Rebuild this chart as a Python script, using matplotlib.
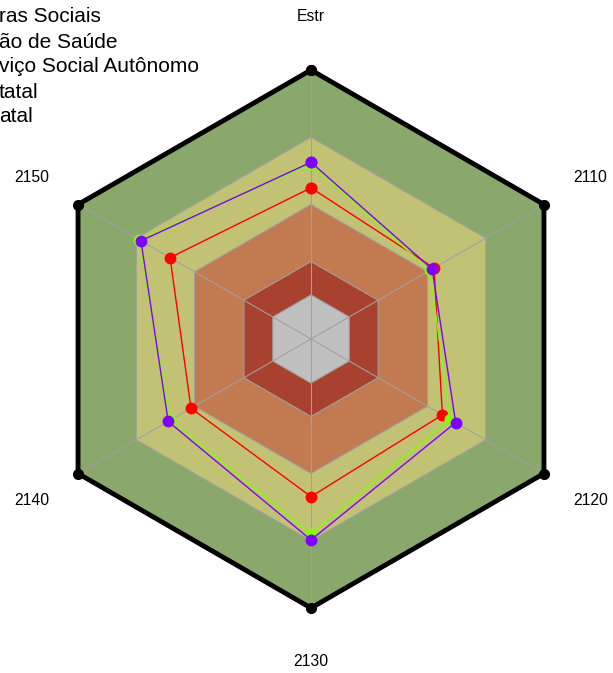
import numpy as np
import matplotlib
matplotlib.use("Agg")
import matplotlib.pyplot as plt

plt.rcParams["font.family"] = ["Liberation Sans", "DejaVu Sans"]

axes_labels = ["Estr", "2110", "2120", "2130", "2140", "2150"]
legend_labels = ["ras Sociais", "ão de Saúde", "viço Social Autônomo", "tatal", "atal"]

# radial scale 0..100
band_levels = [100, 75, 50, 28.8, 16.4]
band_colors = ["#8ba86c", "#c2c274", "#c27a50", "#a8412d", "#c0c0c0"]

series_red = [56.2, 52.8, 56.4, 58.6, 51.5, 60.5]
series_green = [65.0, 51.0, 59.7, 72.5, 60.5, 73.8]
series_purple = [65.7, 52.0, 62.1, 74.7, 61.3, 73.0]
series = [(series_red, "#ff0000"), (series_green, "#80ff00"), (series_purple, "#8000ff")]

W, H = 613, 673
fig = plt.figure(figsize=(W / 100, H / 100), dpi=100)
cx, cy, R = 311, 339, 269
ax = fig.add_axes([(cx - R) / W, (H - cy - R) / H, 2 * R / W, 2 * R / H], projection="polar")
ax.set_theta_zero_location("N")
ax.set_theta_direction(-1)
ax.set_ylim(0, 100)
ax.grid(False)
ax.spines["polar"].set_visible(False)
ax.set_xticks([])
ax.set_yticks([])
ax.patch.set_alpha(0)

theta = np.linspace(0, 2 * np.pi, len(axes_labels), endpoint=False)
tc = np.append(theta, theta[0])


def closed(vals):
    return np.append(vals, vals[0])


for lvl, col in zip(band_levels, band_colors):
    ax.fill(tc, closed([lvl] * len(theta)), color=col, lw=0, zorder=1)
    ax.plot(tc, closed([lvl] * len(theta)), color="#a0a0a0", lw=0.8, zorder=2)

for t in theta:
    ax.plot([t, t], [0, 100], color="#a0a0a0", lw=0.8, zorder=2)

ax.plot(tc, closed([100] * len(theta)), color="black", lw=3.5, zorder=3,
        marker="o", markersize=7, clip_on=False, solid_joinstyle="miter")

for vals, col in series:
    ax.plot(tc, closed(vals), color=col, lw=1, marker="o", markersize=7.5, zorder=4)

for t, lab in zip(theta, axes_labels):
    ax.text(t, 120, lab, ha="center", va="center", fontsize=11.3, clip_on=False)

for i, lab in enumerate(legend_labels):
    fig.text(-0.002, 1 - (17 + 25 * i) / H, lab, ha="left", va="center", fontsize=15)

fig.savefig("out.png", dpi=100)
